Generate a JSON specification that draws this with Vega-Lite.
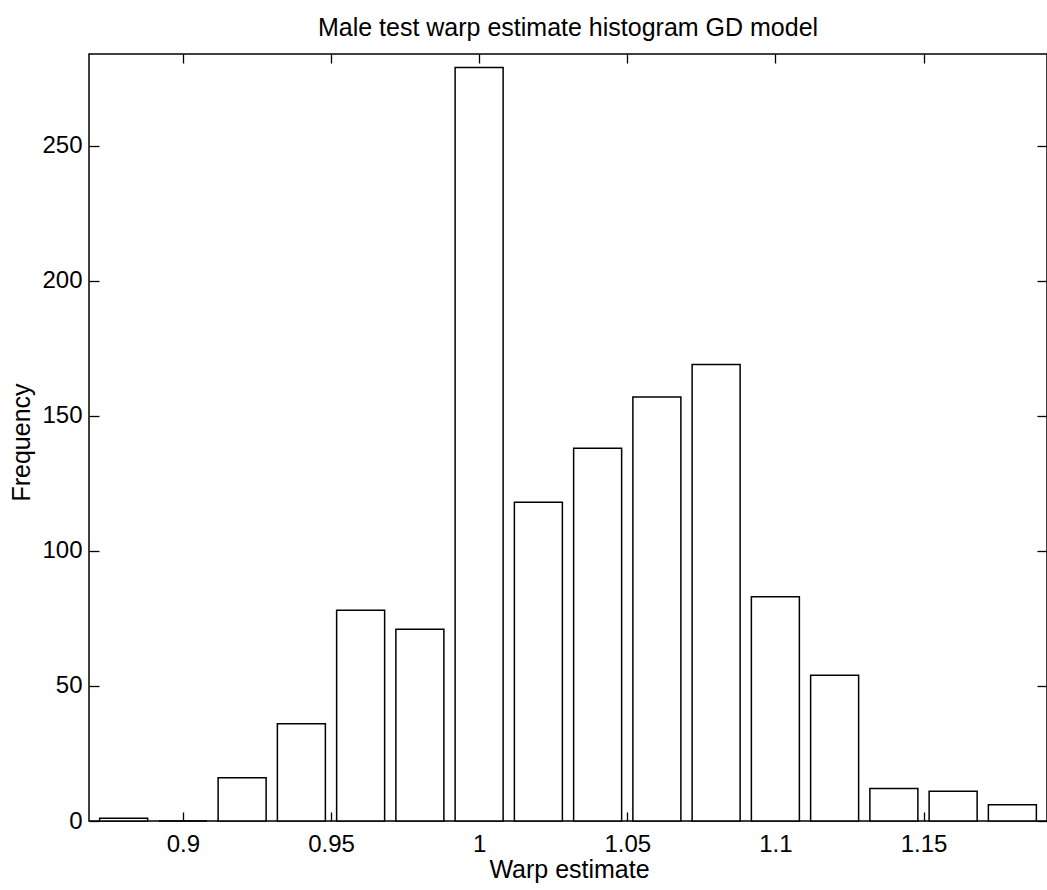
{
  "$schema": "https://vega.github.io/schema/vega-lite/v6.json",
  "autosize": {"type": "none"},
  "width": 958,
  "height": 767,
  "padding": {"left": 89, "top": 54, "right": 0, "bottom": 69},
  "background": "white",
  "title": {
    "text": "Male test warp estimate histogram GD model",
    "fontSize": 25,
    "fontWeight": "normal",
    "color": "black",
    "anchor": "middle",
    "frame": "group",
    "baseline": "alphabetic",
    "offset": 18,
    "dy": 26
  },
  "config": {
    "font": "Liberation Sans",
    "view": {"stroke": "black", "strokeWidth": 1.5},
    "axis": {
      "grid": false,
      "domain": false,
      "tickColor": "black",
      "tickWidth": 1.3,
      "labelColor": "black",
      "labelFontSize": 24,
      "titleColor": "black",
      "titleFontSize": 25,
      "titleFontWeight": "normal"
    }
  },
  "data": {
    "values": [
      {"warp": 0.88, "count": 1},
      {"warp": 0.90, "count": 0},
      {"warp": 0.92, "count": 16},
      {"warp": 0.94, "count": 36},
      {"warp": 0.96, "count": 78},
      {"warp": 0.98, "count": 71},
      {"warp": 1.00, "count": 279},
      {"warp": 1.02, "count": 118},
      {"warp": 1.04, "count": 138},
      {"warp": 1.06, "count": 157},
      {"warp": 1.08, "count": 169},
      {"warp": 1.10, "count": 83},
      {"warp": 1.12, "count": 54},
      {"warp": 1.14, "count": 12},
      {"warp": 1.16, "count": 11},
      {"warp": 1.18, "count": 6}
    ]
  },
  "resolve": {"axis": {"x": "independent", "y": "independent"}},
  "layer": [
    {
      "mark": {"type": "bar", "width": 48, "fill": "white", "stroke": "black", "strokeWidth": 1.5},
      "encoding": {
        "x": {
          "field": "warp",
          "type": "quantitative",
          "scale": {"domain": [0.87, 1.19], "nice": false, "zero": false},
          "axis": {
            "orient": "bottom",
            "values": [0.9, 0.95, 1, 1.05, 1.1, 1.15],
            "format": "~g",
            "tickSize": -9,
            "labelPadding": 39,
            "labelBaseline": "alphabetic",
            "title": "Warp estimate",
            "titleX": 480,
            "titleY": 56,
            "titleAlign": "center",
            "titleBaseline": "alphabetic"
          }
        },
        "y": {
          "field": "count",
          "type": "quantitative",
          "scale": {"domain": [0, 284], "nice": false},
          "axis": {
            "orient": "left",
            "values": [0, 50, 100, 150, 200, 250],
            "tickSize": -10,
            "labelPadding": 17,
            "title": "Frequency",
            "titleAngle": -90,
            "titleX": -60,
            "titleY": 388,
            "titleAlign": "center",
            "titleBaseline": "alphabetic"
          }
        }
      }
    },
    {
      "mark": {"type": "bar", "width": 48, "opacity": 0},
      "encoding": {
        "x": {
          "field": "warp",
          "type": "quantitative",
          "axis": {
            "orient": "top",
            "values": [0.9, 0.95, 1, 1.05, 1.1, 1.15],
            "tickSize": -9,
            "labels": false,
            "title": null
          }
        },
        "y": {
          "field": "count",
          "type": "quantitative",
          "axis": {
            "orient": "right",
            "values": [0, 50, 100, 150, 200, 250],
            "tickSize": -10,
            "labels": false,
            "title": null
          }
        }
      }
    }
  ]
}
